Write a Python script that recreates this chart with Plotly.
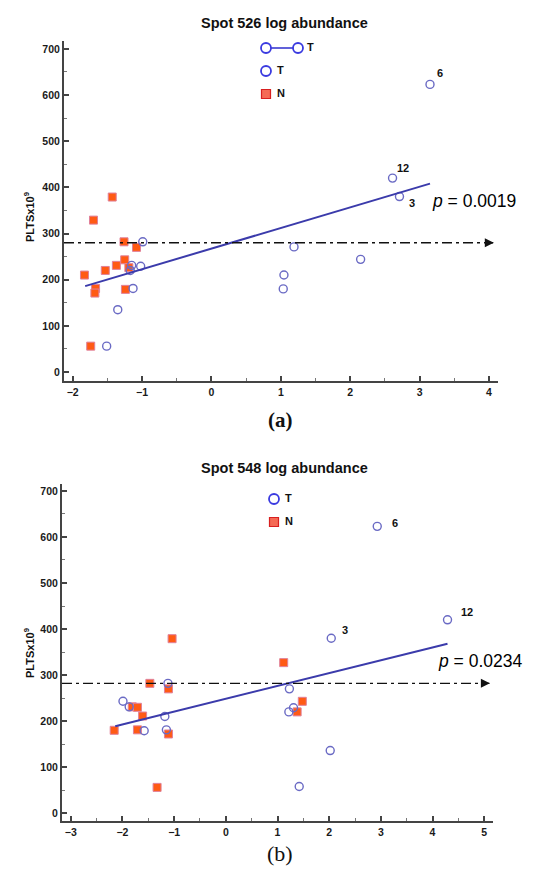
import plotly.graph_objects as go

# ---------------- data: panel (a) Spot 526 ----------------
a_T_x = [-0.99, -1.15, -1.02, -1.17, -1.13, -1.35, -1.51, 3.15, 2.61, 2.71, 1.19, 2.15, 1.045, 1.035]
a_T_y = [282, 231, 229, 220, 181, 135, 56, 623, 420, 380, 271, 244, 210, 180]
a_N_x = [-1.43, -1.70, -1.26, -1.08, -1.25, -1.37, -1.53, -1.83, -1.67, -1.68, -1.24, -1.74, -1.19]
a_N_y = [379, 329, 282, 270, 243, 231, 220, 210, 181, 171, 179, 56, 226]
a_fit_x = [-1.82, 3.15]
a_fit_y = [186, 408]
a_ref = 280
a_p = "<i>p</i> = 0.0019"
a_labels = ["6", "12", "3"]
a_label_x = [3.29, 2.76, 2.89]
a_label_y = [648, 441, 365]

# ---------------- data: panel (b) Spot 548 ----------------
b_T_x = [-1.12, -1.99, -1.87, -1.18, -1.58, -1.15, 2.93, 4.29, 2.04, 1.23, 1.31, 1.22, 2.02, 1.42]
b_T_y = [282, 243, 231, 210, 179, 181, 623, 420, 380, 270, 229, 220, 136, 58]
b_N_x = [-1.04, -1.47, -1.11, -1.81, -1.71, -1.61, -2.16, -1.71, -1.11, -1.33, 1.12, 1.48, 1.38]
b_N_y = [379, 282, 270, 231, 230, 211, 180, 181, 172, 56, 327, 243, 220]
b_fit_x = [-2.14, 4.29]
b_fit_y = [189, 368]
b_ref = 282
b_p = "<i>p</i> = 0.0234"
b_labels = ["6", "12", "3"]
b_label_x = [3.28, 4.67, 2.30]
b_label_y = [631, 436, 398]

x_ticks_a = [-2, -1, 0, 1, 2, 3, 4]
x_ticks_b = [-3, -2, -1, 0, 1, 2, 3, 4, 5]
y_ticks = [0, 100, 200, 300, 400, 500, 600, 700]

# page has an 8px body margin: the figure occupies window pixels 8..549 x 8..870
OFF = 8
PW, PH = 549, 870
W, H = PW - OFF, PH - OFF
FONT = "Liberation Sans, Arial, sans-serif"
T_COL = "#6a6ac4"
N_FILL = "#ff5a14"
N_LINE = "#e0809a"
FIT_COL = "#3b3bab"


def dx(p):
    return (p - OFF) / W


def dy(p):
    return 1 - (p - OFF) / H


fig = go.Figure()


def add_panel(xa, ya, Tx, Ty, Nx, Ny, fx, fy, ref, xr):
    fig.add_trace(go.Scatter(x=Nx, y=Ny, mode="markers", xaxis=xa, yaxis=ya,
                             marker=dict(symbol="square", size=8, color=N_FILL,
                                         line=dict(color=N_LINE, width=1)),
                             showlegend=False, hoverinfo="skip"))
    fig.add_trace(go.Scatter(x=Tx, y=Ty, mode="markers", xaxis=xa, yaxis=ya,
                             marker=dict(symbol="circle-open", size=8, color=T_COL,
                                         line=dict(color=T_COL, width=1.4)),
                             showlegend=False, hoverinfo="skip"))
    fig.add_trace(go.Scatter(x=fx, y=fy, mode="lines", xaxis=xa, yaxis=ya,
                             line=dict(color=FIT_COL, width=2),
                             showlegend=False, hoverinfo="skip"))
    fig.add_trace(go.Scatter(x=[xr[0], xr[1] - 0.05], y=[ref, ref], mode="lines", xaxis=xa, yaxis=ya,
                             line=dict(color="#111111", width=1.3, dash="10px,4px,3px,4px"),
                             showlegend=False, hoverinfo="skip"))
    fig.add_trace(go.Scatter(x=[xr[1] - 0.04], y=[ref], mode="markers", xaxis=xa, yaxis=ya,
                             marker=dict(symbol="arrow-right", size=9, color="#111111",
                                         line=dict(width=0)),
                             showlegend=False, hoverinfo="skip", cliponaxis=False))


add_panel("x", "y", a_T_x, a_T_y, a_N_x, a_N_y, a_fit_x, a_fit_y, a_ref, [-2.125, 4.11])
add_panel("x2", "y2", b_T_x, b_T_y, b_N_x, b_N_y, b_fit_x, b_fit_y, b_ref, [-3.17, 5.15])

# point labels
for t, lx, ly in zip(a_labels, a_label_x, a_label_y):
    fig.add_annotation(x=lx, y=ly, xref="x", yref="y", text="<b>%s</b>" % t, showarrow=False,
                       font=dict(family=FONT, size=11, color="#111"))
for t, lx, ly in zip(b_labels, b_label_x, b_label_y):
    fig.add_annotation(x=lx, y=ly, xref="x2", yref="y2", text="<b>%s</b>" % t, showarrow=False,
                       font=dict(family=FONT, size=11, color="#111"))

# overlay pixel axis (window pixel coordinates) for legend glyphs and texts
fig.add_trace(go.Scatter(x=[266, 298], y=[48, 48], mode="lines+markers", xaxis="x3", yaxis="y3",
                         line=dict(color="#2c2ccc", width=1.5),
                         marker=dict(symbol="circle", size=10, color="white",
                                     line=dict(color="#3a3ae0", width=1.8)),
                         showlegend=False, hoverinfo="skip"))
fig.add_trace(go.Scatter(x=[266, 274], y=[71, 499], mode="markers", xaxis="x3", yaxis="y3",
                         marker=dict(symbol="circle-open", size=10, color="#3a3ae0",
                                     line=dict(color="#3a3ae0", width=1.8)),
                         showlegend=False, hoverinfo="skip"))
fig.add_trace(go.Scatter(x=[266, 274], y=[94, 522], mode="markers", xaxis="x3", yaxis="y3",
                         marker=dict(symbol="square", size=9, color="#f56a55",
                                     line=dict(color="#d82020", width=1.2)),
                         showlegend=False, hoverinfo="skip"))


def ptext(x, y, txt, size=11, xanchor="left", family=FONT, color="#111", angle=0):
    fig.add_annotation(x=x, y=y, xref="x3", yref="y3", text=txt, showarrow=False,
                       xanchor=xanchor, yanchor="middle", textangle=angle,
                       font=dict(family=family, size=size, color=color))


ptext(305, 47, "<b>T</b>")
ptext(275, 70, "<b>T</b>")
ptext(275, 93, "<b>N</b>")
ptext(283, 498, "<b>T</b>")
ptext(283, 521, "<b>N</b>")

ptext(284, 23, "<b>Spot 526 log abundance</b>", size=14.5, xanchor="center")
ptext(284, 468, "<b>Spot 548 log abundance</b>", size=14.5, xanchor="center")
ptext(29, 217, "<b>PLTSx10<sup>9</sup></b>", size=11, xanchor="center", angle=-90)
ptext(29, 653, "<b>PLTSx10<sup>9</sup></b>", size=11, xanchor="center", angle=-90)
ptext(474, 201, a_p, size=17.5, xanchor="center", color="#000")
ptext(480, 661, b_p, size=17.5, xanchor="center", color="#000")
ptext(280, 420, "<b>(a)</b>", size=21, xanchor="center", family="Liberation Serif, serif")
ptext(280, 853, "(b)", size=22, xanchor="center", family="Liberation Serif, serif")


def axis_style(dom, rng, tickvals, minor_dtick):
    return dict(domain=dom, range=rng, tickmode="array", tickvals=tickvals,
                ticks="inside", ticklen=5, tickwidth=1.5, tickcolor="#444",
                showline=True, linewidth=2, linecolor="#444", showgrid=False, zeroline=False,
                tickfont=dict(family=FONT, size=10.5, color="#1a1a1a", weight="bold"),
                minor=dict(ticks="inside", ticklen=3, tickwidth=1, tickcolor="#777", dtick=minor_dtick,
                           showgrid=False),
                fixedrange=True)


fig.update_layout(
    width=W, height=H, margin=dict(l=0, r=0, t=0, b=0),
    paper_bgcolor="white", plot_bgcolor="rgba(0,0,0,0)",
    xaxis=axis_style([dx(64), dx(498)], [-2.125, 4.13], x_ticks_a, 0.5),
    yaxis=axis_style([dy(381), dy(41)], [-19.5, 717], y_ticks, 50),
    xaxis2=axis_style([dx(62), dx(493)], [-3.17, 5.17], x_ticks_b, 0.5),
    yaxis2=axis_style([dy(821), dy(484)], [-17, 715], y_ticks, 50),
    xaxis3=dict(domain=[0, 1], range=[OFF, PW], visible=False, fixedrange=True),
    yaxis3=dict(domain=[0, 1], range=[PH, OFF], visible=False, fixedrange=True),
    showlegend=False,
)
fig.layout.xaxis.anchor = "y"
fig.layout.yaxis.anchor = "x"
fig.layout.xaxis2.anchor = "y2"
fig.layout.yaxis2.anchor = "x2"
fig.layout.xaxis3.anchor = "y3"
fig.layout.yaxis3.anchor = "x3"

fig.write_html("out.html")
